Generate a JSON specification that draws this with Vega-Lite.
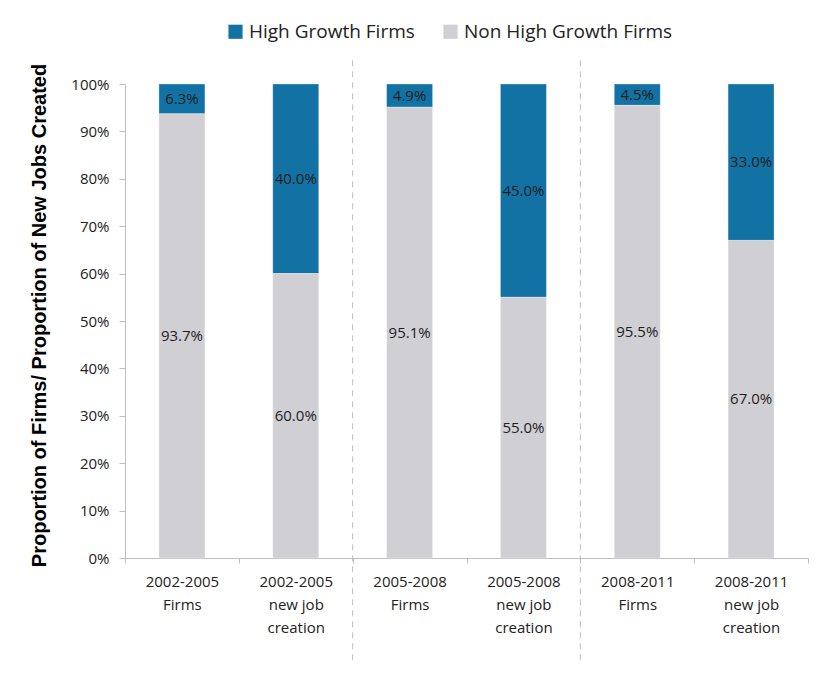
{
  "$schema": "https://vega.github.io/schema/vega-lite/v6.json",
  "autosize": "none",
  "width": 683,
  "height": 474,
  "padding": {"left": 125, "top": 84, "right": 24, "bottom": 126},
  "background": "white",
  "config": {
    "view": {"stroke": null},
    "font": "Open Sans",
    "axis": {"labelFont": "Open Sans", "labelColor": "#222222", "labelFontSize": 15, "domainColor": "#bfbfbf", "tickColor": "#bfbfbf", "grid": false}
  },
  "datasets": {
    "bars": [
      {"cat": "2002-2005 Firms", "series": "High Growth Firms", "value": 0.063},
      {"cat": "2002-2005 Firms", "series": "Non High Growth Firms", "value": 0.937},
      {"cat": "2002-2005 new job creation", "series": "High Growth Firms", "value": 0.40},
      {"cat": "2002-2005 new job creation", "series": "Non High Growth Firms", "value": 0.60},
      {"cat": "2005-2008 Firms", "series": "High Growth Firms", "value": 0.049},
      {"cat": "2005-2008 Firms", "series": "Non High Growth Firms", "value": 0.951},
      {"cat": "2005-2008 new job creation", "series": "High Growth Firms", "value": 0.45},
      {"cat": "2005-2008 new job creation", "series": "Non High Growth Firms", "value": 0.55},
      {"cat": "2008-2011 Firms", "series": "High Growth Firms", "value": 0.045},
      {"cat": "2008-2011 Firms", "series": "Non High Growth Firms", "value": 0.955},
      {"cat": "2008-2011 new job creation", "series": "High Growth Firms", "value": 0.33},
      {"cat": "2008-2011 new job creation", "series": "Non High Growth Firms", "value": 0.67}
    ],
    "separators": [
      {"cat": "2005-2008 Firms", "top": 1.05, "bottom": -0.222},
      {"cat": "2008-2011 Firms", "top": 1.05, "bottom": -0.222}
    ]
  },
  "layer": [
    {
      "data": {"name": "bars"},
      "mark": {"type": "bar", "width": {"band": 0.404}, "stroke": "white", "strokeWidth": 0.5, "strokeOpacity": 0.6},
      "encoding": {
        "x": {
          "field": "cat", "type": "nominal", "sort": null,
          "scale": {"paddingInner": 0, "paddingOuter": 0},
          "axis": {
            "title": null, "labelAngle": 0, "tickBand": "extent", "tickSize": 5,
            "labelPadding": 11, "labelLineHeight": 23, "labelBaseline": "top",
            "labelExpr": "length(datum.label) < 9 ? '' : (indexof(datum.label, 'Firms') > 0 ? [slice(datum.label, 0, 9), 'Firms'] : [slice(datum.label, 0, 9), 'new job', 'creation'])"
          }
        },
        "y": {
          "field": "value", "type": "quantitative", "stack": "zero",
          "scale": {"domain": [0, 1], "nice": false, "zero": false},
          "axis": {
            "title": "Proportion of Firms/ Proportion of New Jobs Created",
            "titleFont": "Liberation Sans", "titleFontSize": 20, "titleFontWeight": "bold", "titleColor": "#000000",
            "titlePadding": 21, "titleY": 231,
            "format": ".0%", "values": [0, 0.1, 0.2, 0.3, 0.4, 0.5, 0.6, 0.7, 0.8, 0.9, 1.0],
            "tickSize": 6, "labelPadding": 10
          }
        },
        "color": {
          "field": "series", "type": "nominal",
          "scale": {"domain": ["High Growth Firms", "Non High Growth Firms"], "range": ["#1272a4", "#d0cfd4"]},
          "legend": {
            "title": null, "orient": "none", "direction": "horizontal", "legendX": 101, "legendY": -62,
            "symbolType": "square", "symbolSize": 200, "symbolStrokeWidth": 0, "labelLimit": 400,
            "labelFont": "Open Sans", "labelFontSize": 19, "labelColor": "#222222", "labelOffset": 4, "columnPadding": 26
          }
        },
        "order": {"field": "series", "sort": "descending"}
      }
    },
    {
      "data": {"name": "bars"},
      "mark": {"type": "text", "font": "Open Sans", "fontSize": 15, "color": "#1e1e1e", "baseline": "middle"},
      "encoding": {
        "x": {"field": "cat", "type": "nominal", "sort": null},
        "y": {"field": "value", "type": "quantitative", "stack": "zero", "bandPosition": 0.5},
        "text": {"field": "value", "type": "quantitative", "format": ".1%"},
        "order": {"field": "series", "sort": "descending"},
        "detail": {"field": "series"}
      }
    },
    {
      "data": {"name": "separators"},
      "mark": {"type": "rule", "color": "#bdbdbd", "strokeDash": [6, 5], "strokeWidth": 1},
      "encoding": {
        "x": {"field": "cat", "type": "nominal", "bandPosition": 0},
        "y": {"field": "top", "type": "quantitative"},
        "y2": {"field": "bottom"}
      }
    }
  ]
}
